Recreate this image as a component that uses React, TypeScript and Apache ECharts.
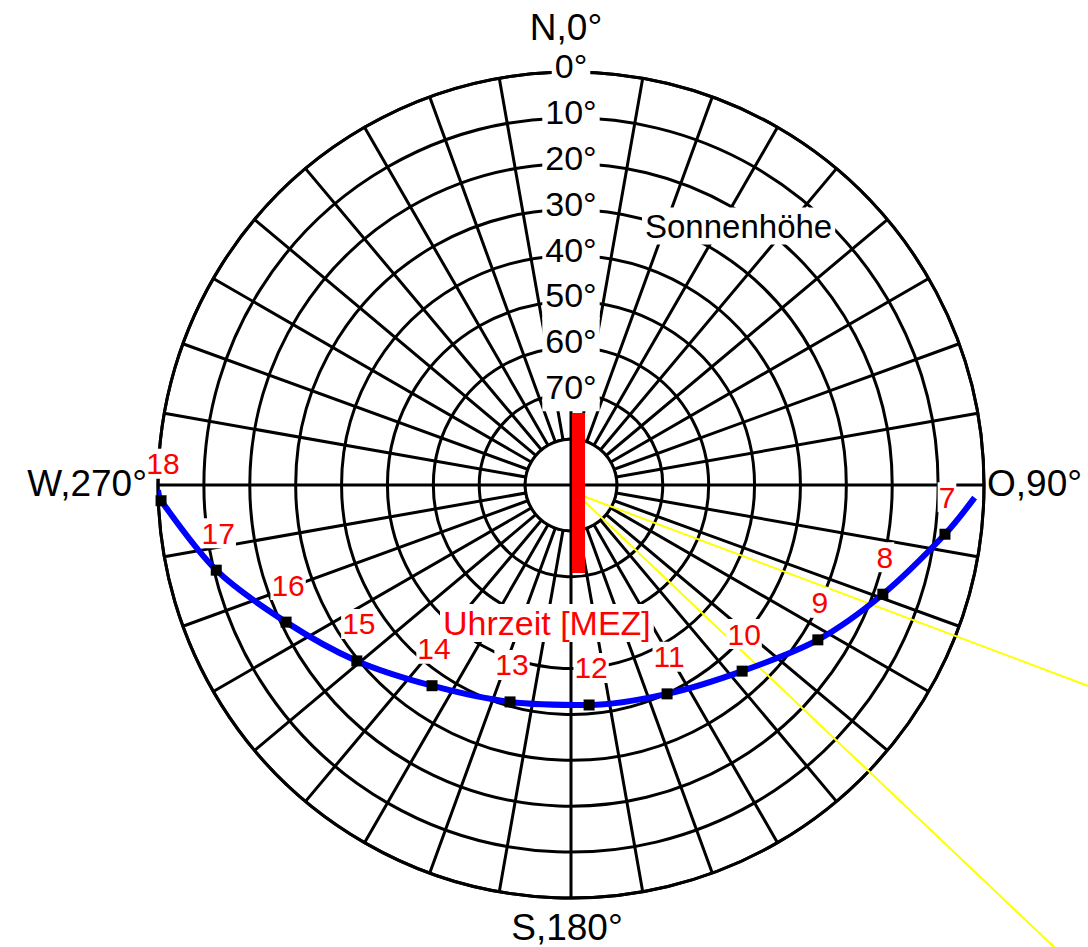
import React, { useEffect, useRef } from 'react';
import * as echarts from 'echarts';

// ---- data ----
const hours = [7, 8, 9, 10, 11, 12, 13, 14, 15, 16, 17, 18];
const hourAzimuth = [97.5, 109.3, 122.1, 137.4, 155.3, 175.3, 195.7, 214.7, 230.6, 244.3, 256.5, 267.8];
const hourElevation = [7.8, 18.0, 26.5, 34.9, 39.9, 41.9, 40.9, 36.8, 29.6, 21.1, 10.5, 0.6];
const sunriseAzimuth = 91.8;
const sunriseElevation = 2.0;
const sunsetAzimuth = 269.3;
const sunsetElevation = 0.0;
const elevationTicks = [0, 10, 20, 30, 40, 50, 60, 70];
const directionLabels = ['N,0°', 'O,90°', 'S,180°', 'W,270°'];
const yellowRayAzimuths = [110.6, 133.5];
const elevationTitle = 'Sonnenhöhe';
const hourTitle = 'Uhrzeit [MEZ]';

// ---- layout ----
const W = 1088;
const H = 947;
const CX = 571;
const CY = 485;
const R = 413;
const FONT = "'Liberation Sans', Arial, Helvetica, sans-serif";

export default function App() {
  const ref = useRef<HTMLDivElement>(null);

  useEffect(() => {
    if (!ref.current) return;
    const chart = echarts.init(ref.current, null, { renderer: 'svg', width: W, height: H });

    const pathAz = [sunriseAzimuth, ...hourAzimuth, sunsetAzimuth];
    const pathEl = [sunriseElevation, ...hourElevation, sunsetElevation];
    const pathData = pathAz.map((a, i) => [90 - pathEl[i], a]);
    const markerData = hours.map((h, i) => ({ value: [90 - hourElevation[i], hourAzimuth[i]], name: String(h) }));
    const elevLabelData = elevationTicks.map((e) => ({ value: [90 - e, 0], name: e + '°' }));

    const r80 = (R * 10) / 90;
    const rayOrigins = [
      [CX + 12, CY + 11],
      [CX + 12, CY + 15],
    ];
    const rays = yellowRayAzimuths.map((az, i) => {
      const rad = (az * Math.PI) / 180;
      const [ox, oy] = rayOrigins[i];
      return {
        type: 'line',
        z: 1,
        z2: 3,
        shape: { x1: ox, y1: oy, x2: ox + 900 * Math.sin(rad), y2: oy - 900 * Math.cos(rad) },
        style: { stroke: '#ffff00', lineWidth: 2 },
        silent: true,
      };
    });

    const dirPos = [
      { x: 566, y: 27, align: 'center' },
      { x: 987, y: 483, align: 'left' },
      { x: 567, y: 927, align: 'center' },
      { x: 147, y: 483, align: 'right' },
    ];
    const dirTexts = directionLabels.map((t, i) => ({
      type: 'text',
      x: dirPos[i].x,
      y: dirPos[i].y,
      z: 5,
      style: {
        text: t,
        font: `37px ${FONT}`,
        fill: '#000',
        align: dirPos[i].align,
        verticalAlign: 'middle',
      },
    }));

    chart.setOption({
      animation: false,
      backgroundColor: '#fff',
      polar: { center: [CX, CY], radius: R },
      angleAxis: {
        type: 'value',
        min: 0,
        max: 360,
        interval: 10,
        startAngle: 90,
        clockwise: true,
        axisLine: { show: true, lineStyle: { color: '#000', width: 3 } },
        axisTick: { show: false },
        axisLabel: { show: false },
        splitLine: { show: true, lineStyle: { color: '#000', width: 3 } },
      },
      radiusAxis: {
        type: 'value',
        min: 0,
        max: 90,
        interval: 10,
        axisLine: { show: false },
        axisTick: { show: false },
        axisLabel: { show: false },
        splitLine: { show: true, lineStyle: { color: '#000', width: 3 } },
      },
      graphic: {
        elements: [
          {
            type: 'circle',
            z: 1,
            z2: 0,
            shape: { cx: CX, cy: CY, r: r80 },
            style: { fill: '#fff', stroke: '#000', lineWidth: 3 },
            silent: true,
          },
          {
            type: 'line',
            z: 1,
            z2: 1,
            shape: { x1: CX - r80, y1: CY, x2: CX + r80, y2: CY },
            style: { stroke: '#000', lineWidth: 3 },
            silent: true,
          },
          {
            type: 'line',
            z: 1,
            z2: 1,
            shape: { x1: CX, y1: CY - r80, x2: CX, y2: CY + r80 },
            style: { stroke: '#000', lineWidth: 3 },
            silent: true,
          },
          ...rays,
          {
            type: 'rect',
            z: 10,
            shape: { x: CX + 1, y: CY - 72, width: 13, height: 160 },
            style: { fill: '#ff0000' },
            silent: true,
          },
          ...dirTexts,
          {
            type: 'text',
            x: 642,
            y: 226,
            z: 5,
            style: {
              text: elevationTitle,
              font: `33px ${FONT}`,
              fill: '#000',
              align: 'left',
              verticalAlign: 'middle',
              backgroundColor: '#fff',
              padding: [2, 3],
            },
          },
          {
            type: 'text',
            x: 440,
            y: 623,
            z: 5,
            style: {
              text: hourTitle,
              font: `34px ${FONT}`,
              fill: '#ff0000',
              align: 'left',
              verticalAlign: 'middle',
              backgroundColor: '#fff',
              padding: [2, 3],
            },
          },
        ],
      },
      series: [
        {
          type: 'scatter',
          coordinateSystem: 'polar',
          data: elevLabelData,
          symbol: 'circle',
          symbolSize: 1,
          itemStyle: { color: 'rgba(0,0,0,0)', opacity: 1 },
          z: 3,
          label: {
            show: true,
            position: 'inside',
            formatter: '{b}',
            offset: [0, -6],
            color: '#000',
            opacity: 1,
            fontFamily: FONT,
            fontSize: 34,
            lineHeight: 34,
            backgroundColor: '#fff',
            padding: [7, 3],
          },
          silent: true,
        },
        {
          type: 'line',
          coordinateSystem: 'polar',
          data: pathData,
          showSymbol: false,
          symbol: 'none',
          smooth: 0.3,
          lineStyle: { color: '#0000ff', width: 6 },
          z: 4,
          silent: true,
        },
        {
          type: 'scatter',
          coordinateSystem: 'polar',
          data: markerData,
          symbol: 'rect',
          symbolSize: 11,
          itemStyle: { color: '#000', opacity: 1 },
          z: 5,
          label: {
            show: true,
            position: 'inside',
            formatter: '{b}',
            offset: [2, -37],
            color: '#ff0000',
            opacity: 1,
            fontFamily: FONT,
            fontSize: 30,
            backgroundColor: '#fff',
            padding: [0, 1],
          },
          silent: true,
        },
      ],
    });

    return () => chart.dispose();
  }, []);

  return <div ref={ref} style={{ position: 'absolute', left: 0, top: 0, width: W, height: H }} />;
}
